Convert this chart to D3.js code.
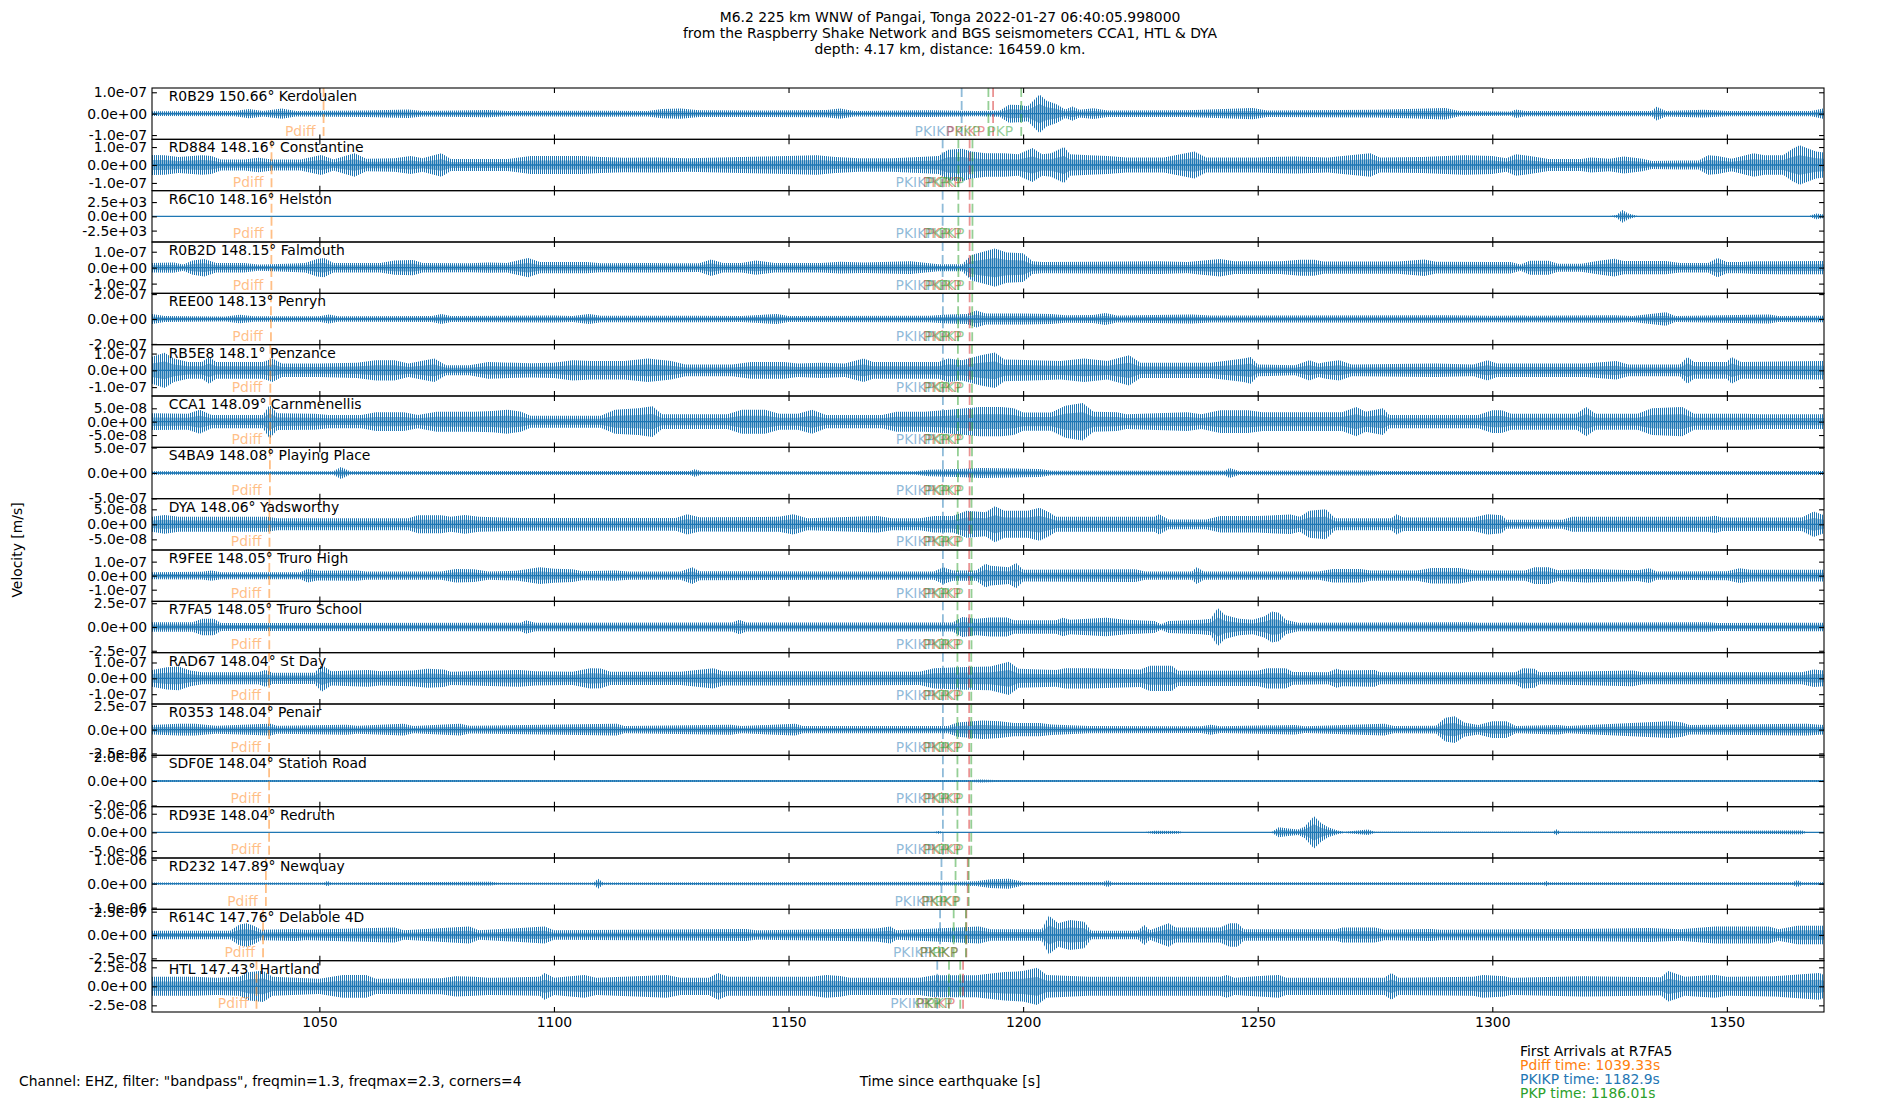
<!DOCTYPE html>
<html>
<head>
<meta charset="utf-8">
<script src="https://cdn.jsdelivr.net/npm/d3@7"></script>
<style>
  body { margin: 0; background: #fff; }
  svg text { font-family: "DejaVu Sans", sans-serif; font-size: 13.9px; }
</style>
</head>
<body>
<div id="chart"></div>
<script>
// station labels, top to bottom
const stations = [
  "R0B29 150.66° Kerdoualen", "RD884 148.16° Constantine", "R6C10 148.16° Helston",
  "R0B2D 148.15° Falmouth", "REE00 148.13° Penryn", "RB5E8 148.1° Penzance",
  "CCA1 148.09° Carnmenellis", "S4BA9 148.08° Playing Place", "DYA 148.06° Yadsworthy",
  "R9FEE 148.05° Truro High", "R7FA5 148.05° Truro School", "RAD67 148.04° St Day",
  "R0353 148.04° Penair", "SDF0E 148.04° Station Road", "RD93E 148.04° Redruth",
  "RD232 147.89° Newquay", "R614C 147.76° Delabole 4D", "HTL 147.43° Hartland"
]

// y tick value of each panel (m/s, counts for R6C10) and half range in tick units
const tickVals = [1e-7, 1e-7, 2.5e3, 1e-7, 2e-7, 1e-7, 5e-8, 5e-7, 5e-8, 1e-7, 2.5e-7, 1e-7, 2.5e-7, 2e-6, 5e-6, 1e-6, 2.5e-7, 2.5e-8]
const yLims = [1.2, 1.43, 1.8, 1.61, 1.03, 1.53, 1.92, 1.01, 1.71, 1.83, 1.08, 1.62, 1.08, 1.05, 1.38, 1.07, 1.1, 1.35]

// phase arrival times [s] per station
const pdiffT = [1050.9, 1039.8, 1039.8, 1039.77, 1039.68, 1039.55, 1039.5, 1039.46, 1039.37, 1039.33, 1039.33, 1039.29, 1039.29, 1039.29, 1039.29, 1038.6, 1038.0, 1036.6]
const pkikpT = [1186.9, 1182.85, 1182.85, 1182.85, 1182.9, 1182.9, 1182.9, 1182.9, 1182.9, 1182.9, 1182.9, 1182.9, 1182.9, 1182.9, 1182.9, 1182.6, 1182.3, 1181.7]
const pkikpRefT = [1193.6, 1188.6, 1188.6, 1188.6, 1188.6, 1188.6, 1188.6, 1188.6, 1188.55, 1188.5, 1188.5, 1188.5, 1188.5, 1188.5, 1188.5, 1188.2, 1187.9, 1187.2]
const pkpT = [1192.6, 1186.2, 1186.2, 1186.2, 1186.15, 1186.1, 1186.1, 1186.1, 1186.05, 1186.0, 1186.01, 1186.0, 1186.0, 1186.0, 1186.0, 1185.6, 1185.2, 1184.2]
const pkp2T = [1199.6, 1189.2, 1189.2, 1189.2, 1189.15, 1189.1, 1189.1, 1189.1, 1189.0, 1189.0, 1189.0, 1188.95, 1188.95, 1188.95, 1188.95, 1188.4, 1187.8, 1186.6]

const timeRange = [1014.33, 1370.7]
const xTicks = [1050, 1100, 1150, 1200, 1250, 1300, 1350]

// trace envelopes: [time s, amplitude in tick units]
const envR0B29 = [[1014.3,.11],[1032,.12],[1035,.22],[1038,.13],[1042,.24],[1045,.13],[1060,.15],[1069,.2],[1072,.13],[1086,.17],[1090,.12],[1110,.14],[1120,.13],[1123,.22],[1127,.24],[1131,.16],[1145,.15],[1158,.17],[1161,.24],[1164,.13],[1180,.16],[1190,.12],[1195,.14],[1197,.42],[1199,.4],[1201,.35],[1203.5,.9],[1205,.6],[1207,.45],[1209,.2],[1210.5,.33],[1212,.18],[1215,.25],[1218,.15],[1235,.16],[1249,.26],[1252,.15],[1275,.18],[1282,.22],[1290,.27],[1293,.12],[1304,.1],[1305,.2],[1307,.12],[1334,.12],[1335,.32],[1337,.13],[1345,.18],[1350,.12],[1368,.12],[1370.7,.25]]
const envRD884 = [[1014.3,.56],[1017,.55],[1020,.45],[1025,.55],[1027,.5],[1029,.3],[1034,.3],[1037,.4],[1040,.3],[1046,.3],[1050.4,.56],[1053,.3],[1057.5,.65],[1060,.35],[1066,.38],[1069.5,.5],[1072,.37],[1076,.65],[1078,.33],[1090,.33],[1095,.5],[1100,.5],[1106,.5],[1110,.45],[1115,.4],[1122,.42],[1128.5,.38],[1133,.4],[1140,.45],[1145,.47],[1150,.5],[1156,.55],[1160,.45],[1165,.38],[1172,.38],[1178,.45],[1182,.5],[1184,.85],[1187,.9],[1189,.75],[1192,.65],[1196,.65],[1199,.6],[1202,.95],[1204,.6],[1206,.65],[1208.7,1.0],[1210,.6],[1214,.55],[1218,.5],[1222,.42],[1230,.42],[1236.5,.75],[1239,.42],[1250,.42],[1258,.48],[1265,.42],[1274,.65],[1276,.42],[1285,.45],[1294,.55],[1300,.5],[1303,.37],[1305,.6],[1308,.5],[1312,.33],[1319,.33],[1321,.42],[1325,.35],[1328,.48],[1332,.35],[1334,.22],[1340,.25],[1344,.25],[1346,.55],[1348,.5],[1351,.35],[1355.7,.65],[1358,.55],[1362,.55],[1364,.9],[1365.5,1.1],[1367,.95],[1369,.75],[1370.7,.7]]
const envR6C10 = [[1014.3,.015],[1325,.015],[1326.5,.1],[1327.7,.45],[1329,.2],[1331,.02],[1367.5,.02],[1369,.2],[1370.7,.12]]
const envR0B2D = [[1014.3,.3],[1019,.32],[1021,.2],[1023,.45],[1025.5,.55],[1028,.3],[1034,.3],[1037,.2],[1040,.22],[1047,.3],[1049.5,.55],[1051,.6],[1053,.3],[1063,.3],[1066,.45],[1070,.48],[1072,.3],[1082,.28],[1086,.32],[1090,.3],[1094.5,.6],[1097,.35],[1107,.35],[1110,.28],[1120,.3],[1125,.28],[1131,.27],[1133.5,.52],[1136,.3],[1140,.3],[1143,.45],[1147,.3],[1157,.3],[1161,.37],[1166,.33],[1176,.4],[1182,.22],[1187,.22],[1189,.8],[1191.5,1.0],[1194,1.2],[1196.5,.95],[1200,.9],[1202,.4],[1204,.35],[1215,.37],[1229,.4],[1235,.35],[1242,.55],[1245,.4],[1255,.4],[1259,.5],[1262,.5],[1264,.38],[1280,.38],[1285.5,.52],[1288,.37],[1300,.36],[1304,.36],[1306,.2],[1308,.44],[1312,.44],[1314,.25],[1319,.25],[1322,.4],[1326,.56],[1328,.42],[1337,.42],[1340,.3],[1346,.3],[1348,.6],[1350,.35],[1353,.35],[1356,.4],[1370.7,.42]]
const envREE00 = [[1014.3,.2],[1017,.12],[1030,.1],[1033,.17],[1036,.11],[1050,.11],[1052,.18],[1054,.11],[1074,.12],[1076,.2],[1078,.12],[1100,.14],[1104,.12],[1107.5,.2],[1110,.13],[1130,.13],[1140,.12],[1147.5,.2],[1150,.12],[1180,.13],[1184,.18],[1188,.2],[1190,.34],[1192,.22],[1200,.22],[1206,.2],[1209,.15],[1215,.16],[1217.5,.24],[1220,.14],[1236,.18],[1240,.14],[1290,.15],[1300,.13],[1326,.15],[1330,.12],[1337,.27],[1339,.12],[1359,.18],[1361,.12],[1370.7,.13]]
const envRB5E8 = [[1014.3,.8],[1017,1.05],[1019,.7],[1022,.5],[1025,.5],[1026.5,.8],[1028,.5],[1038,.5],[1040,.7],[1042,.4],[1050,.4],[1058,.45],[1062,.6],[1066,.6],[1069,.4],[1074.5,.7],[1077,.3],[1082,.3],[1086,.5],[1095,.42],[1100,.45],[1104,.6],[1108,.55],[1115,.55],[1120,.7],[1125,.55],[1128,.35],[1138,.35],[1142,.5],[1149,.5],[1152,.4],[1157,.45],[1162,.4],[1166,.7],[1168,.5],[1182,.5],[1184,.7],[1187,.6],[1191,.9],[1194,1.06],[1196,.65],[1202,.6],[1208,.55],[1213,.7],[1218,.55],[1222.6,.9],[1225,.45],[1240,.45],[1247,.7],[1248.5,.8],[1250,.35],[1258,.3],[1261,.6],[1263,.4],[1264.5,.5],[1267.4,.6],[1270,.35],[1288,.4],[1296,.35],[1299,.6],[1301,.4],[1320,.4],[1326.4,.55],[1329,.35],[1340,.35],[1341.6,.8],[1343,.5],[1350,.5],[1351,.8],[1353,.5],[1370.7,.55]]
const envCCA1 = [[1014.3,.63],[1022,.6],[1024.5,.9],[1027,.5],[1038,.5],[1039.4,1.25],[1041,.63],[1049,.6],[1052,.5],[1059,.5],[1062,.7],[1068,.7],[1071,.5],[1075,.75],[1083,.75],[1087,.8],[1090,.9],[1093,.75],[1095,.45],[1110,.45],[1113,.9],[1118,1.0],[1121,1.15],[1123,.55],[1137,.55],[1140,.9],[1145,.9],[1148,.6],[1152,.6],[1155,.9],[1158,.5],[1170,.5],[1173,.75],[1179,.75],[1183,.85],[1190.7,1.1],[1195.4,1.1],[1198,1.0],[1200,.68],[1206,.68],[1209,1.2],[1212.7,1.4],[1215,.75],[1220,.7],[1222,.55],[1235,.7],[1238,.55],[1242,.85],[1248,.85],[1251,.7],[1263,.7],[1268,.7],[1271,1.1],[1273,.75],[1276.7,1.0],[1278,.5],[1297,.5],[1300,.85],[1302,.85],[1304,.6],[1318,.6],[1320,1.1],[1322,.6],[1331,.6],[1334,1.0],[1340.5,1.1],[1343,.6],[1354,.6],[1357,.55],[1370.7,.55]]
const envS4BA9 = [[1014.3,.07],[1053,.07],[1054.6,.24],[1056.5,.07],[1129,.08],[1130,.15],[1131.5,.07],[1177,.07],[1180,.13],[1186,.16],[1191,.2],[1200,.17],[1203.6,.16],[1206,.09],[1243,.09],[1244,.2],[1246,.08],[1274,.1],[1276,.08],[1370.7,.08]]
const envDYA = [[1014.3,.5],[1017,.62],[1020,.5],[1039,.5],[1041,.4],[1069,.4],[1071,.6],[1076,.6],[1078,.5],[1081,.62],[1084,.5],[1093,.42],[1126,.42],[1128.4,.67],[1131,.48],[1148,.5],[1151,.67],[1154,.4],[1169,.55],[1172,.4],[1178,.4],[1181,.55],[1185,.55],[1188,.9],[1192,.8],[1194,1.2],[1196,.9],[1201,.9],[1203.5,1.1],[1205.5,.8],[1207,.5],[1228,.5],[1229,.67],[1231,.33],[1239,.33],[1242,.55],[1250,.55],[1257,.65],[1259,.5],[1261,.9],[1264.5,1.0],[1266.5,.4],[1278.5,.4],[1279.6,.67],[1281,.45],[1296,.45],[1299,.67],[1302,.6],[1303,.3],[1315,.3],[1317,.5],[1346,.5],[1347.5,.58],[1349,.45],[1366,.45],[1368.5,.85],[1370.7,.6]]
const envR9FEE = [[1014.3,.25],[1025,.28],[1027,.36],[1029,.25],[1046,.25],[1047.5,.48],[1049.5,.35],[1058,.36],[1060,.3],[1076,.3],[1079,.48],[1083,.45],[1086,.3],[1092,.35],[1097,.6],[1100,.5],[1104,.45],[1106,.32],[1113,.36],[1116,.3],[1127,.3],[1129.5,.6],[1131,.32],[1160,.3],[1173,.3],[1181,.3],[1183,.6],[1185,.36],[1190,.36],[1192,.85],[1193,.7],[1197,.6],[1198.5,.9],[1200,.42],[1224,.45],[1226,.3],[1236,.3],[1237,.6],[1238.5,.3],[1263,.3],[1266,.48],[1272,.48],[1274,.36],[1284,.36],[1287,.55],[1293,.55],[1296,.36],[1307,.36],[1309,.6],[1312,.6],[1314,.38],[1320,.48],[1331,.38],[1333.5,.52],[1335,.3],[1350,.32],[1352.7,.52],[1355,.42],[1370.7,.42]]
const envR7FA5 = [[1014.3,.2],[1023,.2],[1025,.35],[1027.5,.35],[1029,.17],[1093,.18],[1094,.28],[1096,.18],[1138,.19],[1139.5,.31],[1141,.19],[1185,.19],[1187,.42],[1190,.35],[1193,.4],[1196.6,.4],[1198,.28],[1207,.28],[1208.5,.39],[1210,.3],[1217.7,.39],[1222,.3],[1228,.25],[1229.4,.12],[1231,.25],[1238,.3],[1240,.35],[1241.5,.8],[1243,.5],[1246,.35],[1249,.3],[1251.5,.45],[1253,.65],[1254.5,.6],[1256,.3],[1258.6,.18],[1295,.2],[1297,.18],[1346,.2],[1348,.17],[1370.7,.18]]
const envRAD67 = [[1014.3,.53],[1017.5,.7],[1020,.75],[1022.5,.5],[1025,.38],[1037,.38],[1038.5,.53],[1040,.35],[1049,.35],[1050.5,.85],[1052.5,.45],[1060.4,.53],[1063,.45],[1070,.5],[1073,.6],[1076.5,.55],[1078,.42],[1092.7,.53],[1096,.45],[1104,.42],[1107.7,.64],[1110,.62],[1112,.42],[1127,.42],[1134,.64],[1136,.45],[1150,.45],[1178,.42],[1181,.64],[1186,.7],[1193,.75],[1197,1.05],[1199,.6],[1207,.53],[1209,.64],[1214,.64],[1225,.55],[1227,.8],[1231.7,.8],[1233,.48],[1250,.48],[1252,.64],[1256,.64],[1257.5,.4],[1265,.38],[1266.8,.6],[1268,.5],[1275,.53],[1276,.38],[1305,.38],[1306.5,.64],[1309,.6],[1310,.38],[1330,.5],[1332,.38],[1366,.38],[1368.5,.55],[1370.7,.5]]
const envR0353 = [[1014.3,.2],[1020,.25],[1023.5,.25],[1028,.17],[1039.6,.25],[1041,.17],[1055.8,.21],[1058,.17],[1068,.25],[1070,.15],[1080,.25],[1082,.16],[1113.4,.25],[1115,.15],[1137.7,.21],[1140,.15],[1151.5,.25],[1153,.15],[1184,.15],[1186,.3],[1191.3,.39],[1195,.35],[1198,.28],[1203.6,.28],[1206,.22],[1214,.15],[1238,.14],[1240,.21],[1242,.14],[1258,.2],[1260,.14],[1277,.25],[1279,.15],[1288,.16],[1290,.5],[1292,.56],[1294,.3],[1297,.2],[1300,.35],[1303,.35],[1305,.15],[1314,.2],[1316,.15],[1332,.3],[1338,.35],[1340.5,.3],[1342,.2],[1367,.25],[1370.7,.2]]
const envSDF0E = [[1014.3,.04],[1189,.04],[1191,.06],[1194,.04],[1370.7,.04]]
const envRD93E = [[1014.3,.02],[1181,.02],[1182,.07],[1183,.02],[1226,.02],[1228,.09],[1233,.07],[1234,.02],[1253,.02],[1254.5,.27],[1256.5,.2],[1258.6,.15],[1260,.3],[1262,.87],[1263.5,.5],[1265,.27],[1267,.1],[1268.5,.03],[1273.5,.15],[1275,.03],[1313,.03],[1313.6,.16],[1314.5,.03],[1364,.1],[1366,.1],[1367,.02],[1370.7,.02]]
const envRD232 = [[1014.3,.05],[1051,.05],[1051.7,.11],[1052.5,.05],[1086.5,.08],[1088,.05],[1108.5,.05],[1109.4,.21],[1110.5,.05],[1186,.08],[1190,.1],[1193,.18],[1197,.21],[1199,.12],[1200,.07],[1217,.07],[1218,.14],[1219,.06],[1311,.06],[1311.5,.11],[1312,.06],[1364,.06],[1365,.14],[1366,.06],[1370.7,.06]]
const envR614C = [[1014.3,.18],[1031,.18],[1033,.45],[1034.5,.5],[1036,.4],[1037.5,.22],[1045,.26],[1047,.22],[1061.5,.3],[1066,.32],[1068,.2],[1082,.36],[1084,.2],[1098,.36],[1100,.2],[1141,.26],[1143,.2],[1168.8,.28],[1171.7,.36],[1173,.2],[1190.7,.36],[1193,.25],[1204,.25],[1205.5,.82],[1207.5,.5],[1210,.64],[1213,.57],[1214.5,.18],[1224.5,.18],[1225.8,.43],[1227,.2],[1231,.5],[1232.5,.32],[1242,.32],[1244,.5],[1245.7,.5],[1247,.25],[1266.8,.25],[1268,.32],[1275,.32],[1277,.22],[1287,.26],[1289,.22],[1314,.25],[1333.5,.3],[1340,.25],[1347.5,.36],[1359,.36],[1361,.25],[1365,.4],[1370.7,.4]]
const envHTL = [[1014.3,.5],[1023.5,.5],[1028,.45],[1033,.5],[1035,.75],[1038,.82],[1040,.5],[1050,.4],[1055,.6],[1060,.6],[1062,.4],[1076,.42],[1079,.53],[1083,.5],[1086,.45],[1097,.5],[1098,.7],[1100,.45],[1106.5,.6],[1109,.45],[1119,.55],[1124,.6],[1127,.45],[1133,.45],[1135,.7],[1137,.5],[1155,.5],[1158,.6],[1161,.55],[1163,.45],[1178,.45],[1181,.58],[1190,.58],[1196,.75],[1200,.8],[1203,.98],[1205,.6],[1214,.5],[1219.4,.5],[1242,.5],[1243.4,.6],[1245,.45],[1254.5,.6],[1256,.45],[1277,.45],[1278.5,.7],[1280,.45],[1296,.5],[1298,.6],[1302.5,.53],[1304,.45],[1319.4,.53],[1336,.48],[1337.5,.8],[1339.3,.65],[1341,.5],[1347.5,.6],[1350,.5],[1360,.53],[1369.7,.7],[1370.7,.6]]

const envelopes = [envR0B29, envRD884, envR6C10, envR0B2D, envREE00, envRB5E8, envCCA1, envS4BA9, envDYA,
  envR9FEE, envR7FA5, envRAD67, envR0353, envSDF0E, envRD93E, envRD232, envR614C, envHTL]

const titleLines = [
  "M6.2 225 km WNW of Pangai, Tonga 2022-01-27 06:40:05.998000",
  "from the Raspberry Shake Network and BGS seismometers CCA1, HTL & DYA",
  "depth: 4.17 km, distance: 16459.0 km."
]
const arrivalLines = ["First Arrivals at R7FA5", "Pdiff time: 1039.33s", "PKIKP time: 1182.9s", "PKP time: 1186.01s"]
const arrivalColors = ["#000000", "#ff7f0e", "#1f77b4", "#2ca02c"]

let width = 1900, height = 1100
let margin = {top: 88, right: 76, bottom: 88, left: 152}
let plotW = width - margin.left - margin.right
let plotH = height - margin.top - margin.bottom
let panelH = plotH / stations.length
let tickLen = 4.9
let traceColor = "#1f77b4"

function sci(v) {
  if (v === 0) return "0.0e+00"
  let s = v.toExponential(1)
  return s.replace(/e([+-])(\d+)$/, function(m, sign, d) { return "e" + sign + (d.length < 2 ? "0" + d : d) })
}

let svg = d3.select("#chart").append("svg")
  .attr("width", width)
  .attr("height", height)

// fine vertical hatching so the filled envelope reads like a dense wiggle trace
let pattern = svg.append("defs").append("pattern")
  .attr("id", "wiggle")
  .attr("patternUnits", "userSpaceOnUse")
  .attr("width", 2)
  .attr("height", 8)
pattern.append("rect")
  .attr("width", 1)
  .attr("height", 8)
  .attr("fill", traceColor)
  .attr("shape-rendering", "crispEdges")

let xScale = d3.scaleLinear().domain(timeRange).range([0, plotW])

// phases: times, colour, label
let phases = [
  {name: "Pdiff", times: pdiffT, color: "#ff7f0e"},
  {name: "PKIKP", times: pkikpT, color: "#1f77b4"},
  {name: "PKiKP", times: pkikpRefT, color: "#d62728"},
  {name: "PKP", times: pkpT, color: "#2ca02c"},
  {name: "PKP", times: pkp2T, color: "#2ca02c"}
]

stations.forEach(function(name, i) {
  let tick = tickVals[i]
  let lim = yLims[i] * tick
  let g = svg.append("g")
    .attr("transform", "translate(" + margin.left + "," + (margin.top + i * panelH) + ")")

  let yScale = d3.scaleLinear().domain([-lim, lim]).range([panelH, 0])

  g.append("clipPath").attr("id", "clip" + i)
    .append("rect").attr("width", plotW).attr("height", panelH)

  let area = d3.area()
    .x(function(d) { return xScale(d[0]) })
    .y0(function(d) { return yScale(-d[1] * tick) })
    .y1(function(d) { return yScale(d[1] * tick) })

  let inner = d3.area()
    .x(function(d) { return xScale(d[0]) })
    .y0(function(d) { return yScale(-d[1] * tick * 0.5) })
    .y1(function(d) { return yScale(d[1] * tick * 0.5) })

  let trace = g.append("g").attr("clip-path", "url(#clip" + i + ")")
  trace.append("path")
    .datum(envelopes[i])
    .attr("d", area)
    .attr("fill", "url(#wiggle)")
  trace.append("path")
    .datum(envelopes[i])
    .attr("d", inner)
    .attr("fill", traceColor)
    .attr("fill-opacity", 0.5)
  trace.append("line")
    .attr("x1", 0).attr("x2", plotW)
    .attr("y1", yScale(0)).attr("y2", yScale(0))
    .attr("stroke", traceColor)
    .attr("stroke-width", 1.3)

  // arrival markers
  phases.forEach(function(p) {
    let x = xScale(p.times[i])
    trace.append("line")
      .attr("x1", x).attr("x2", x)
      .attr("y1", 0).attr("y2", panelH)
      .attr("stroke", p.color)
      .attr("stroke-opacity", 0.5)
      .attr("stroke-width", 1.8)
      .attr("stroke-dasharray", "9,4")
    g.append("text")
      .attr("x", x - 8)
      .attr("y", panelH - 3.5)
      .attr("text-anchor", "end")
      .attr("fill", p.color)
      .attr("fill-opacity", 0.5)
      .text(p.name)
  })

  // AXES
  let yAxis = d3.axisLeft(yScale)
    .tickValues([-tick, 0, tick])
    .tickSize(-tickLen)
    .tickPadding(4.9)
    .tickFormat(sci)
  let yAxisR = d3.axisRight(yScale)
    .tickValues([-tick, 0, tick])
    .tickSize(-tickLen)
    .tickFormat("")
  let xTop = d3.axisTop(xScale).tickValues(xTicks).tickSize(-tickLen).tickFormat("")
  let xBottom = d3.axisBottom(xScale).tickValues(xTicks).tickSize(-tickLen).tickPadding(4.9)
    .tickFormat(d3.format("d"))
  if (i < stations.length - 1) xBottom.tickFormat("")

  g.append("g").attr("class", "y axis").call(yAxis)
  g.append("g").attr("class", "y axis").attr("transform", "translate(" + plotW + ",0)").call(yAxisR)
  g.append("g").attr("class", "x axis").call(xTop)
  g.append("g").attr("class", "x axis").attr("transform", "translate(0," + panelH + ")").call(xBottom)

  g.selectAll(".axis").attr("font-size", null).attr("font-family", null)
  g.selectAll(".axis .domain").remove()
  g.selectAll(".axis line").attr("stroke", "#000").attr("stroke-width", 1.1)
  g.selectAll(".axis text").attr("fill", "#000")

  g.append("rect")
    .attr("width", plotW).attr("height", panelH)
    .attr("fill", "none")
    .attr("stroke", "#000")
    .attr("stroke-width", 1.1)

  g.append("text")
    .attr("x", plotW * 0.01)
    .attr("y", 13)
    .text(name)
})

// title
svg.append("g").selectAll("text")
  .data(titleLines)
  .enter().append("text")
  .attr("x", width / 2)
  .attr("y", function(d, k) { return 22 + k * 16 })
  .attr("text-anchor", "middle")
  .text(function(d) { return d })

svg.append("text")
  .attr("transform", "translate(22," + (margin.top + plotH / 2) + ") rotate(-90)")
  .attr("text-anchor", "middle")
  .text("Velocity [m/s]")

svg.append("text")
  .attr("x", width / 2)
  .attr("y", 1086)
  .attr("text-anchor", "middle")
  .text("Time since earthquake [s]")

svg.append("text")
  .attr("x", 19)
  .attr("y", 1086)
  .text('Channel: EHZ, filter: "bandpass", freqmin=1.3, freqmax=2.3, corners=4')

svg.append("g").selectAll("text")
  .data(arrivalLines)
  .enter().append("text")
  .attr("x", 1520)
  .attr("y", function(d, k) { return 1056 + k * 13.9 })
  .attr("fill", function(d, k) { return arrivalColors[k] })
  .text(function(d) { return d })
</script>
</body>
</html>
